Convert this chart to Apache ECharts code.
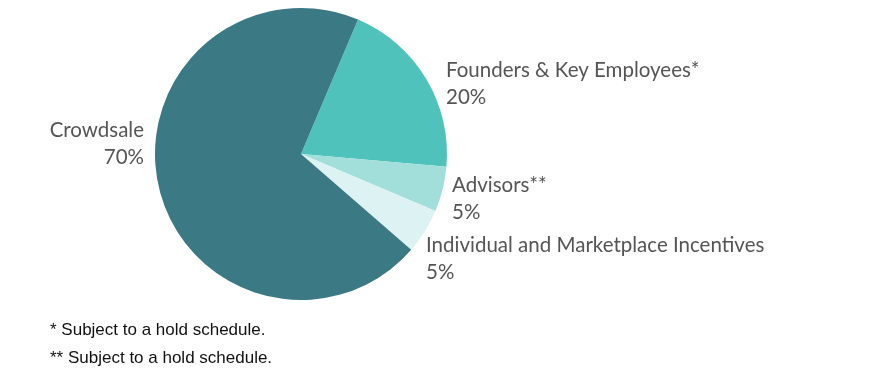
<!DOCTYPE html>
<html>
<head>
<meta charset="utf-8">
<script src="https://cdn.jsdelivr.net/npm/echarts@6/dist/echarts.min.js"></script>
<style>html,body{margin:0;padding:0;background:#fff}#c{width:885px;height:388px}</style>
</head>
<body>
<div id="c"></div>
<script>
const categories = ['Founders & Key Employees*', 'Advisors**', 'Individual and Marketplace Incentives', 'Crowdsale'];
const shares = [20, 5, 5, 70];
const colors = ['#4fc3bb', '#a2dfdb', '#dcf2f3', '#3b7985'];
const footnotes = ['* Subject to a hold schedule.', '** Subject to a hold schedule.'];

const labelPos = [
  {x: 446, y: 84, align: 'left'},
  {x: 452, y: 199, align: 'left'},
  {x: 426, y: 259, align: 'left'},
  {x: 144, y: 144, align: 'right'}
];

const chart = echarts.init(document.getElementById('c'));
chart.setOption({
  animation: false,
  color: colors,
  series: [{
    type: 'pie',
    center: [301, 154],
    radius: 146,
    startAngle: 67,
    clockwise: true,
    data: categories.map((n, i) => ({name: n, value: shares[i]})),
    itemStyle: {borderWidth: 0},
    label: {
      show: true,
      position: 'outside',
      formatter: '{b}\n{c}%',
      fontFamily: 'Lato',
      fontSize: 20.5,
      lineHeight: 27,
      color: '#555'
    },
    labelLine: {show: false},
    labelLayout: function (p) {
      const l = labelPos[p.dataIndex];
      return {x: l.x, y: l.y, align: l.align, verticalAlign: 'middle'};
    },
    emphasis: {disabled: true}
  }],
  graphic: footnotes.map((t, i) => ({
    type: 'text',
    left: 50,
    top: 322 + i * 28,
    style: {text: t, fontFamily: 'Liberation Sans', fontSize: 17, fill: '#111'}
  }))
});
</script>
</body>
</html>
